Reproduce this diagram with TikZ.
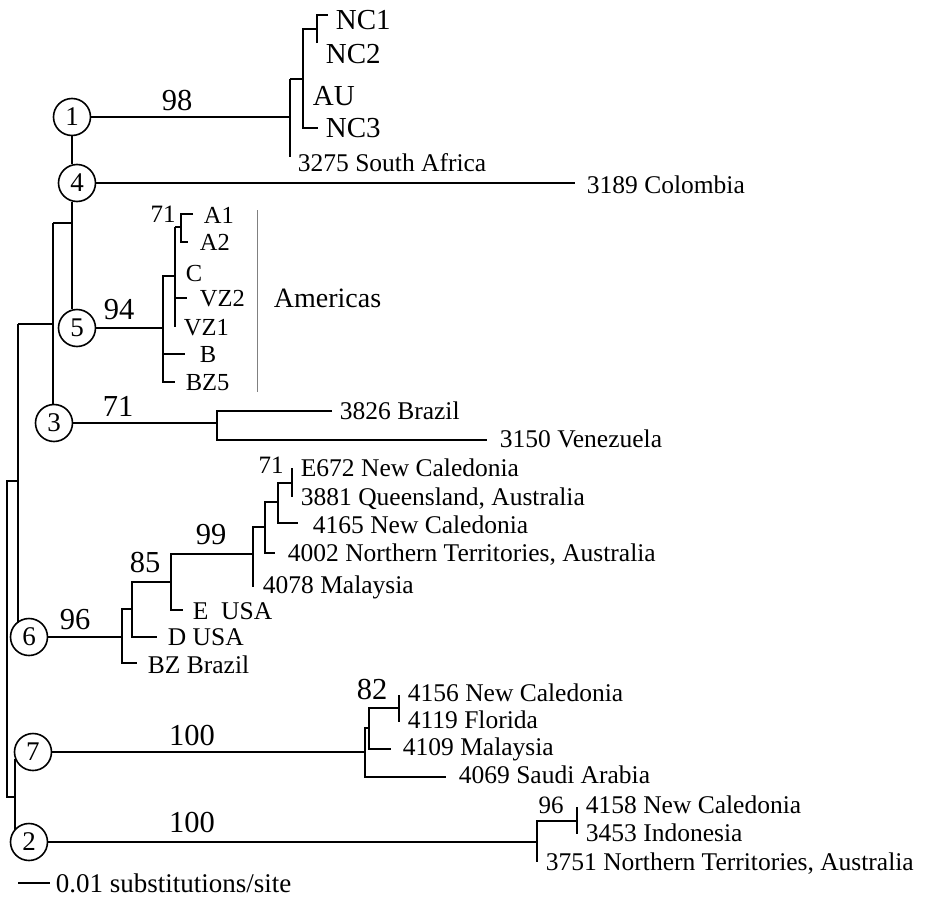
\documentclass[tikz,border=0pt]{standalone}
\usepackage{fontspec}
\setmainfont{Liberation Serif}
\usetikzlibrary{positioning}
\begin{document}
\begin{tikzpicture}[x=1pt,y=-1pt,line width=1.8pt,
clade node/.style={circle,draw,fill=white,line width=1.6pt,minimum size=37pt,inner sep=0pt,font=\fontsize{27}{27}\selectfont},
tip/.style={anchor=west,inner sep=0pt,text height=16.8pt,text depth=0pt,font=\fontsize{25.5}{26}\selectfont},
big tip/.style={tip,text height=19pt,font=\fontsize{29}{30}\selectfont},
small tip/.style={tip,text height=16pt,font=\fontsize{24.5}{25}\selectfont},
boot/.style={inner sep=0pt,text height=20.6pt,text depth=0pt,font=\fontsize{30.5}{31}\selectfont},
small boot/.style={boot,text height=16.9pt,font=\fontsize{25}{25}\selectfont}]

\useasboundingbox (0,0) rectangle (927,897);

% numbered clades
\node[clade node] (c1) at (72,117) {1};
\node[clade node] (c4) at (77,183) {4};
\node[clade node] (c5) at (77,328) {5};
\node[clade node] (c3) at (54,423) {3};
\node[clade node] (c6) at (29,637) {6};
\node[clade node] (c7) at (33,752) {7};
\node[clade node] (c2) at (29,842) {2};

% backbone
\coordinate (j45) at (53,223);
\coordinate (j3) at (18,324);
\coordinate (root) at (7,481);
\coordinate (j72) at (15,797);
\draw (c1.south) -- (c1.south |- c4.north);
\draw (c1.south |- c4.south) -- (c1.south |- c5.north);
\draw (j45) -- (j45 -| c1.south);
\draw (j45) -- (j45 |- c3.north);
\draw (j3) -- (j3 -| j45);
\draw (j3) -- (18,623);
\draw (j3 |- root) -- (root) -- (root |- j72) -- (j72);
\draw (15,759) -- (15,830);

% clade 1
\draw (c1) -- (290,117);
\draw (290,79) -- (290,157);
\draw (290,79) -- (303,79);
\draw (317,29) -- (303,29) -- (303,128) -- (318,128);
\draw (317,43) -- (317,15) -- (328,15);
\foreach \x/\y/\t [count=\i] in {335/20/NC1, 325/54/NC2, 312/96/AU, 325/128/NC3}
  \node[big tip] (a\i) at (\x,\y) {\t};
\node[tip] (a5) at (297,163) {3275 South Africa};

% clade 4
\draw (c4) -- (575,183);
\node[tip] (col) at (586,185) {3189 Colombia};

% clade 5
\draw (c5) -- (163,328);
\draw (175,276) -- (163,276) -- (163,382) -- (175,382);
\draw (163,354) -- (185,354);
\draw (175,227) -- (175,327);
\draw (175,227) -- (181,227);
\draw (193,214) -- (181,214) -- (181,242) -- (188,242);
\draw (175,298) -- (187,298);
\foreach \x/\y/\t [count=\i] in {203/215/A1, 199/242/A2, 185/273/C, 199/298/VZ2, 183/327/VZ1, 199/354/B, 185/382/BZ5}
  \node[small tip] (m\i) at (\x,\y) {\t};
\draw[gray,line width=1pt] (257,210) -- (257,392);
\node[tip,text height=18.3pt,font=\fontsize{28}{28}\selectfont] (amer) at (273,298) {Americas};

% clade 3
\draw (c3) -- (217,423);
\draw (332,411) -- (217,411) -- (217,440) -- (487,440);
\node[tip] (bra) at (339,411) {3826 Brazil};
\node[tip] (ven) at (499,439) {3150 Venezuela};

% clade 6
\draw (c6) -- (122,637);
\draw (132,609) -- (122,609) -- (122,663) -- (137,663);
\draw (171,582) -- (132,582) -- (132,637) -- (157,637);
\draw (253,554) -- (171,554) -- (171,610) -- (183,610);
\draw (265,527) -- (253,527) -- (253,587);
\draw (278,502) -- (265,502) -- (265,553) -- (275,553);
\draw (292,483) -- (278,483) -- (278,523) -- (298,523);
\draw (292,468) -- (292,497);
\foreach \x/\y/\t [count=\i] in {300/468/{E672 New Caledonia}, 300/497/{3881 Queensland, Australia},
    312/525/{4165 New Caledonia}, 287/553/{4002 Northern Territories, Australia},
    262/585/{4078 Malaysia}, 192/611/{E\ \ USA}, 167/637/{D USA}, 147/665/{BZ Brazil}}
  \node[tip] (s\i) at (\x,\y) {\t};

% clade 7
\draw (c7) -- (365,752);
\draw (369,728) -- (365,728) -- (365,777) -- (446,777);
\draw (399,708) -- (369,708) -- (369,749) -- (391,749);
\draw (399,695) -- (399,722);
\foreach \x/\y/\t [count=\i] in {407/693/{4156 New Caledonia}, 407/720/{4119 Florida},
    402/747/{4109 Malaysia}, 458/775/{4069 Saudi Arabia}}
  \node[tip] (f\i) at (\x,\y) {\t};

% clade 2
\draw (c2) -- (537,842);
\draw (577,821) -- (537,821) -- (537,862);
\draw (577,807) -- (577,834);
\foreach \x/\y/\t [count=\i] in {585/805/{4158 New Caledonia}, 585/833/{3453 Indonesia},
    545/862/{3751 Northern Territories, Australia}}
  \node[tip] (g\i) at (\x,\y) {\t};

% bootstrap values
\foreach \x/\y/\t [count=\i] in {177/100/98, 119/309/94, 118/406/71, 75/619/96, 145/562/85,
    211/534/99, 372/689/82, 192/735/100, 192/822/100}
  \node[boot] (b\i) at (\x,\y) {\t};
\foreach \x/\y/\t [count=\i] in {163/214/71, 271/465/71, 551/805/96}
  \node[small boot] (sb\i) at (\x,\y) {\t};

% scale bar
\coordinate (sc) at (18,883);
\draw (sc) -- ++(32,0) coordinate (sc2);
\node[tip,text height=17.7pt,font=\fontsize{27}{27}\selectfont] (sct) at (55,884) {0.01 substitutions/site};
\end{tikzpicture}
\end{document}
